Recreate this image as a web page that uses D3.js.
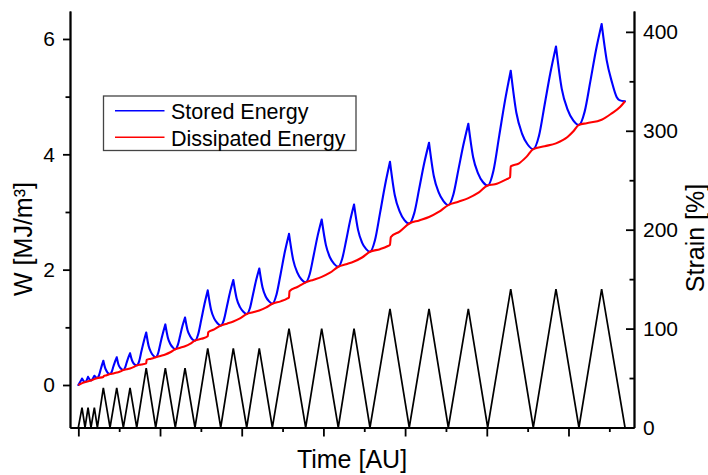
<!DOCTYPE html>
<html><head><meta charset="utf-8">
<script src="https://cdn.jsdelivr.net/npm/d3@7"></script>
<style>
html,body{margin:0;padding:0;background:#fff;}
svg{display:block;font-family:"Liberation Sans",Arial,sans-serif;}
</style></head><body>
<svg id="chart" width="708" height="475"></svg>
<script>
// ---- data ----
const strainT = [0, 0.45, 0.82, 1.19, 1.55, 1.96, 2.33, 3.06, 3.88, 4.70, 5.51, 6.33, 7.15, 8.31, 9.47, 10.65, 11.87, 13.06, 14.28, 15.84, 17.43, 18.97, 20.61, 22.15, 23.75, 25.79, 27.83, 29.79, 31.82, 33.75, 35.70, 38.15, 40.51, 42.93, 45.29, 47.74, 50.11, 52.93, 55.69, 58.47, 61.28, 64.06, 66.92];
const strainV = [0,20,0,20,0,20,0,40,0,40,0,40,0,60,0,60,0,60,0,80,0,80,0,80,0,100,0,100,0,100,0,120,0,120,0,120,0,140,0,140,0,140,0];

const storedT = [0, 0.45, 0.82, 1.19, 1.55, 1.96, 2.33,
 2.51, 2.70, 2.88, 3.06, 3.27, 3.47, 3.68, 3.88,
 4.09, 4.29, 4.50, 4.70, 4.90, 5.11, 5.31, 5.51,
 5.72, 5.92, 6.13, 6.33, 6.54, 6.74, 6.95, 7.15,
 7.44, 7.73, 8.02, 8.31, 8.60, 8.89, 9.18, 9.47,
 9.77, 10.06, 10.36, 10.65, 10.96, 11.26, 11.57, 11.87,
 12.17, 12.47, 12.76, 13.06, 13.37, 13.67, 13.98, 14.28,
 14.67, 15.06, 15.45, 15.84, 16.24, 16.64, 17.03, 17.43,
 17.82, 18.20, 18.59, 18.97, 19.38, 19.79, 20.20, 20.61,
 21.00, 21.38, 21.77, 22.15, 22.55, 22.95, 23.35, 23.75,
 24.26, 24.77, 25.28, 25.79, 26.30, 26.81, 27.32, 27.83,
 28.32, 28.81, 29.30, 29.79, 30.30, 30.81, 31.31, 31.82,
 32.30, 32.79, 33.27, 33.75, 34.24, 34.73, 35.21, 35.70,
 36.31, 36.93, 37.54, 38.15, 38.74, 39.33, 39.92, 40.51,
 41.12, 41.72, 42.33, 42.93, 43.52, 44.11, 44.70, 45.29,
 45.90, 46.52, 47.13, 47.74, 48.33, 48.93, 49.52, 50.11,
 50.82, 51.52, 52.23, 52.93, 53.62, 54.31, 55.00, 55.69,
 56.39, 57.08, 57.78, 58.47, 59.17, 59.88, 60.58, 61.28,
 61.98, 62.67, 63.37, 64.06, 64.68, 65.30, 65.91, 66.23, 66.92];
const storedW = [0.00, 0.11, 0.05, 0.14, 0.08, 0.16, 0.12,
 0.16, 0.25, 0.34, 0.42, 0.30, 0.24, 0.20, 0.19,
 0.23, 0.32, 0.41, 0.48, 0.36, 0.30, 0.27, 0.26,
 0.30, 0.39, 0.48, 0.55, 0.44, 0.38, 0.35, 0.34,
 0.41, 0.59, 0.76, 0.91, 0.68, 0.57, 0.51, 0.48,
 0.55, 0.73, 0.90, 1.05, 0.82, 0.71, 0.65, 0.62,
 0.69, 0.86, 1.03, 1.17, 0.95, 0.85, 0.79, 0.77,
 0.88, 1.14, 1.41, 1.64, 1.31, 1.15, 1.07, 1.03,
 1.13, 1.37, 1.62, 1.82, 1.50, 1.35, 1.27, 1.23,
 1.33, 1.57, 1.82, 2.02, 1.69, 1.53, 1.45, 1.41,
 1.57, 1.93, 2.31, 2.62, 2.17, 1.95, 1.83, 1.78,
 1.92, 2.25, 2.59, 2.87, 2.43, 2.21, 2.10, 2.05,
 2.19, 2.51, 2.85, 3.13, 2.69, 2.47, 2.36, 2.31,
 2.51, 2.98, 3.46, 3.87, 3.29, 3.01, 2.86, 2.80,
 2.98, 3.40, 3.84, 4.20, 3.62, 3.34, 3.19, 3.12,
 3.30, 3.73, 4.16, 4.53, 3.95, 3.67, 3.52, 3.46,
 3.72, 4.32, 4.93, 5.45, 4.72, 4.36, 4.17, 4.09,
 4.32, 4.86, 5.41, 5.87, 5.14, 4.78, 4.59, 4.51,
 4.74, 5.26, 5.81, 6.26, 5.63, 5.26, 4.99, 4.94, 4.92];

const dissT = [0, 0.82, 1.55, 2.33, 3.06, 3.10, 3.47, 3.88,
 4.29, 4.70, 5.11, 5.51,
 5.92, 6.33, 6.74, 7.15,
 7.73, 8.31, 8.36, 8.89, 9.47,
 10.06, 10.65, 11.26, 11.87,
 12.47, 13.06, 13.67, 14.28,
 15.06, 15.84, 15.90, 16.64, 17.43,
 18.20, 18.97, 19.79, 20.61,
 21.38, 22.15, 22.95, 23.75,
 24.77, 25.60, 25.79, 25.85, 26.81, 27.83,
 28.81, 29.79, 30.81, 31.82,
 32.79, 33.75, 34.73, 35.70,
 36.93, 37.90, 38.15, 38.25, 39.33, 40.51,
 41.72, 42.93, 44.11, 45.29,
 46.52, 47.74, 48.93, 50.11,
 51.00, 52.44, 52.85, 52.93, 53.90, 54.88, 55.69,
 57.08, 58.47, 59.88, 60.60, 61.28,
 62.23, 64.06, 65.29, 66.31, 66.92];
const dissW = [0.00, 0.05, 0.08, 0.12, 0.14, 0.155, 0.17, 0.19,
 0.20, 0.215, 0.233, 0.26,
 0.274, 0.288, 0.31, 0.34,
 0.355, 0.375, 0.435, 0.455, 0.48,
 0.504, 0.529, 0.567, 0.62,
 0.646, 0.673, 0.713, 0.77,
 0.80, 0.845, 0.915, 0.965, 1.03,
 1.064, 1.10, 1.154, 1.23,
 1.261, 1.293, 1.342, 1.41,
 1.45, 1.50, 1.52, 1.625, 1.70, 1.78,
 1.826, 1.875, 1.947, 2.05,
 2.094, 2.141, 2.211, 2.31,
 2.355, 2.41, 2.43, 2.565, 2.66, 2.80,
 2.854, 2.912, 3.00, 3.12,
 3.178, 3.24, 3.33, 3.46,
 3.48, 3.57, 3.60, 3.79, 3.84, 3.96, 4.09,
 4.14, 4.19, 4.30, 4.40, 4.51,
 4.54, 4.60, 4.71, 4.82, 4.92];

const wTicks = [0, 2, 4, 6];
const wMinorTicks = [1, 3, 5];
const strainTicks = [0, 100, 200, 300, 400];
const strainMinorTicks = [50, 150, 250, 350];
const timeTicks = [0, 10, 20, 30, 40, 50, 60];
const timeMinorTicks = [5, 15, 25, 35, 45, 55, 65];
const seriesNames = ["Stored Energy", "Dissipated Energy"];
const seriesColors = ["#0000ff", "#ff0000"];
const xTitle = "Time [AU]";
const yLeftTitle = "W [MJ/m\u00B3]";
const yRightTitle = "Strain [%]";

// ---- chart ----
const svg = d3.select("#chart");
const L = 70, R = 634, T = 11, B = 427.5;
const x = d3.scaleLinear().domain([-1.02, 68.02]).range([L, R]);
const yW = d3.scaleLinear().domain([-0.737, 6.485]).range([B, T]);
const yS = d3.scaleLinear().domain([0, 421.1]).range([B, T]);

function styleAxis(g){
  g.select(".domain").attr("stroke","#000").attr("stroke-width",1.8);
  g.selectAll(".tick line").attr("stroke","#000").attr("stroke-width",1.8);
  g.selectAll(".tick text").attr("fill","#000")
    .style("font-family",'"Liberation Sans", Arial, sans-serif').style("font-size","21px");
}

// bottom axis
svg.append("g").attr("transform",`translate(0,${B})`)
  .call(d3.axisBottom(x).tickValues(timeMinorTicks).tickSize(4.5).tickSizeOuter(0).tickFormat(""))
  .call(styleAxis);
svg.append("g").attr("transform",`translate(0,${B})`)
  .call(d3.axisBottom(x).tickValues(timeTicks).tickSize(9).tickSizeOuter(0).tickFormat(""))
  .call(styleAxis);

// left axis
svg.append("g").attr("transform",`translate(${L},0)`)
  .call(d3.axisLeft(yW).tickValues(wMinorTicks).tickSize(4.5).tickSizeOuter(0).tickFormat(""))
  .call(styleAxis);
svg.append("g").attr("transform",`translate(${L},0)`)
  .call(d3.axisLeft(yW).tickValues(wTicks).tickSize(7).tickPadding(8).tickSizeOuter(0).tickFormat(d3.format("d")))
  .call(styleAxis);

// right axis (ticks pointing inward)
svg.append("g").attr("transform",`translate(${R},0)`)
  .call(d3.axisRight(yS).tickValues(strainMinorTicks).tickSize(-4.5).tickSizeOuter(0).tickFormat(""))
  .call(styleAxis);
svg.append("g").attr("transform",`translate(${R},0)`)
  .call(d3.axisRight(yS).tickValues(strainTicks).tickSize(-8).tickPadding(9).tickSizeOuter(0).tickFormat(d3.format("d")))
  .call(styleAxis);

// strain (black triangle wave)
const strainData = strainT.map((t,i)=>[t, strainV[i]]);
svg.append("path").datum(strainData)
  .attr("fill","none").attr("stroke","#000").attr("stroke-width",1.7).attr("stroke-linejoin","miter")
  .attr("d", d3.line().x(d=>x(d[0])).y(d=>yS(d[1])));

// stored energy: split at peaks so cusps stay sharp
function splitAtPeaks(ts, ws){
  const pieces = []; let cur = [[ts[0], ws[0]]];
  for (let i = 1; i < ts.length; i++){
    cur.push([ts[i], ws[i]]);
    if (i < ts.length-1 && ws[i] > ws[i-1] && ws[i] > ws[i+1]){ pieces.push(cur); cur = [[ts[i], ws[i]]]; }
  }
  pieces.push(cur); return pieces;
}
const eLine = d3.line().x(d=>x(d[0])).y(d=>yW(d[1])).curve(d3.curveMonotoneX);
const storedPieces = splitAtPeaks(storedT, storedW);
svg.append("path")
  .attr("fill","none").attr("stroke",seriesColors[0]).attr("stroke-width",2.1).attr("stroke-linecap","round")
  .attr("d", storedPieces.map(p=>eLine(p)).join(""));

// dissipated energy
const dissData = dissT.map((t,i)=>[t, dissW[i]]);
svg.append("path").datum(dissData)
  .attr("fill","none").attr("stroke",seriesColors[1]).attr("stroke-width",2.1).attr("stroke-linejoin","round")
  .attr("d", eLine);

// legend
const lg = svg.append("g");
lg.append("rect").attr("x",103.5).attr("y",96).attr("width",252.5).attr("height",54.5)
  .attr("fill","#fff").attr("stroke","#444").attr("stroke-width",1.3);
seriesNames.forEach((n,i)=>{
  const yy = 110.7 + i*26.6;
  lg.append("line").attr("x1",115).attr("x2",164.5).attr("y1",yy).attr("y2",yy)
    .attr("stroke",seriesColors[i]).attr("stroke-width",1.4);
  lg.append("text").attr("x",171).attr("y",yy+8.5).attr("font-size","21.5px").attr("fill","#000").text(n);
});

// axis titles
svg.append("text").attr("x",352).attr("y",468).attr("text-anchor","middle")
  .attr("font-size","25px").attr("fill","#000").text(xTitle);
svg.append("text").attr("transform","translate(32,239) rotate(-90)").attr("text-anchor","middle")
  .attr("font-size","25px").attr("fill","#000").text(yLeftTitle);
svg.append("text").attr("transform","translate(704,238) rotate(-90)").attr("text-anchor","middle")
  .attr("font-size","25px").attr("fill","#000").text(yRightTitle);
</script>
</body></html>
